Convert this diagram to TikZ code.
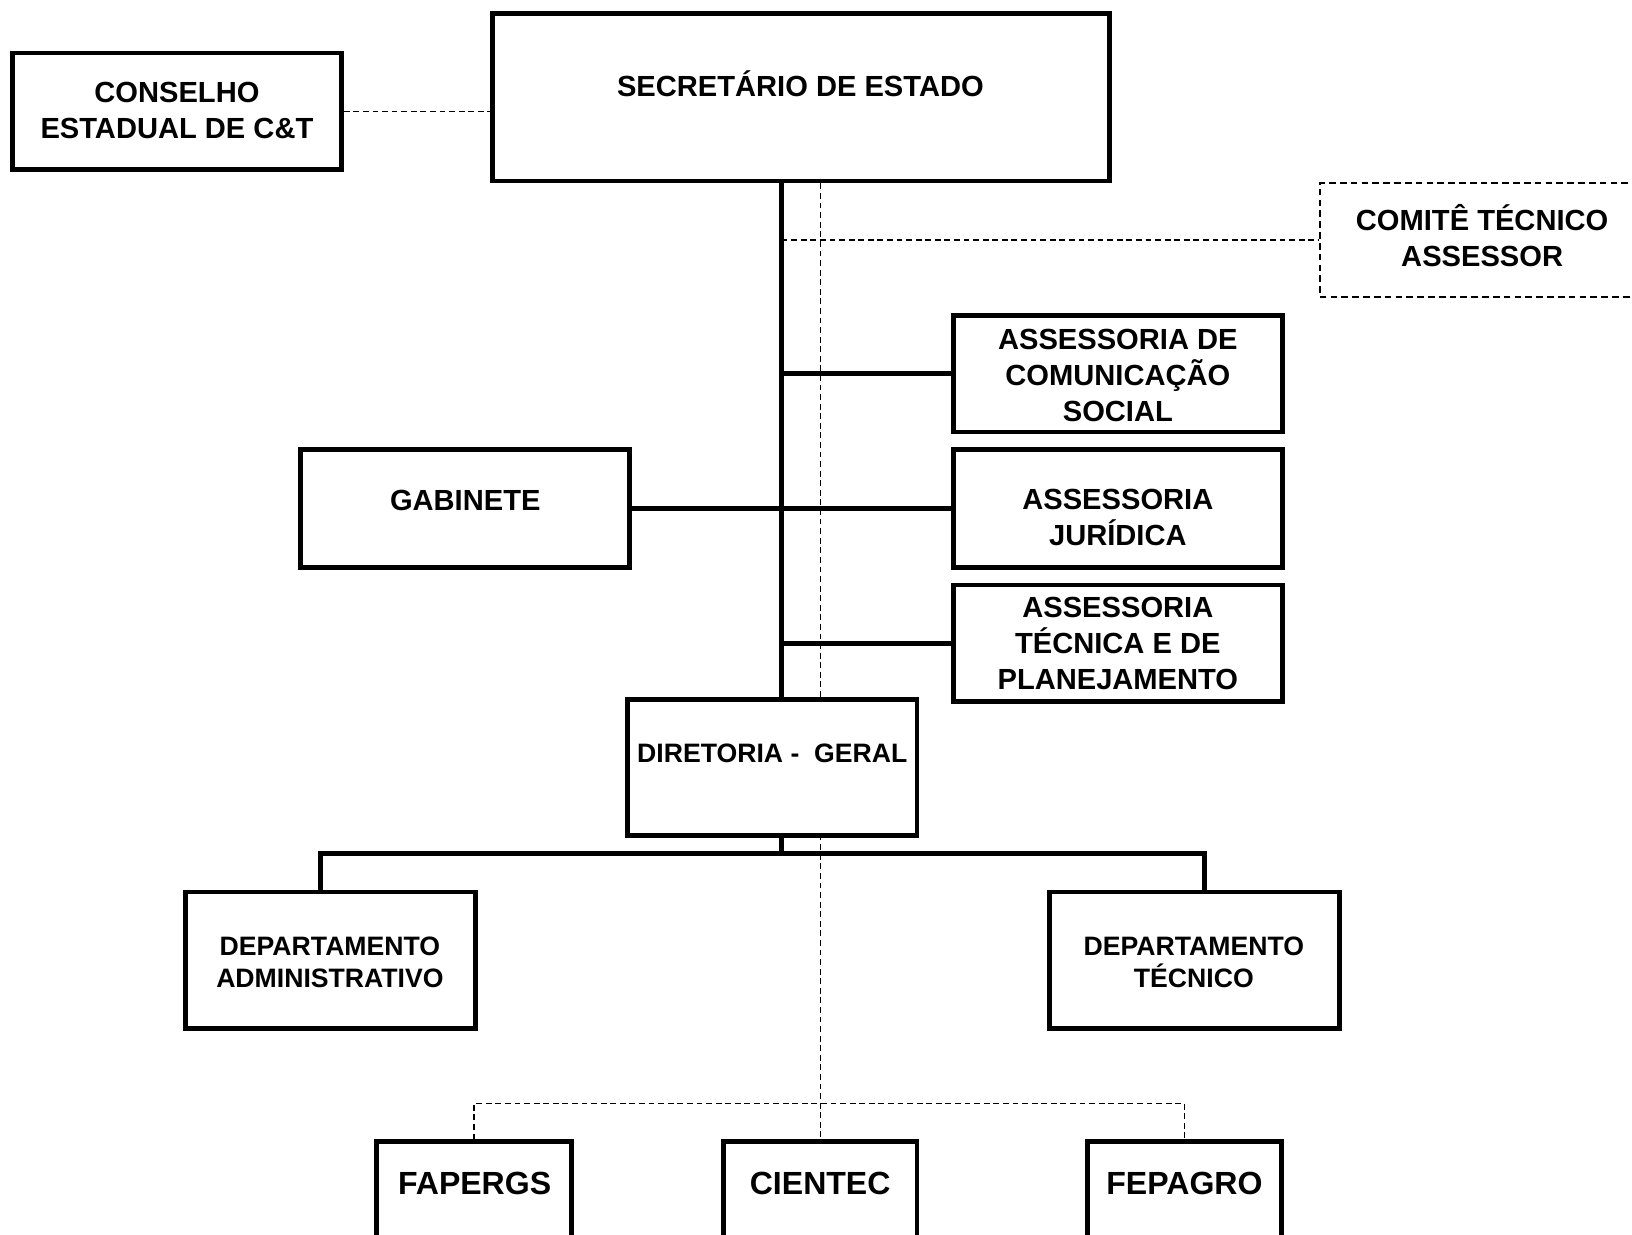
\documentclass[tikz,border=0pt]{standalone}
\usepackage{fontspec}
\setmainfont{Liberation Sans}
\usetikzlibrary{fit,backgrounds}
\begin{document}
\begin{tikzpicture}[x=0.25mm,y=-0.25mm,
  box/.style={draw, line width=1.15mm, fill=white, inner sep=0pt},
  dbox/.style={draw, line width=0.45mm, dash pattern=on 1.6mm off 1mm, fill=white, inner sep=0pt},
  mainline/.style={line width=1.15mm},
  thinline/.style={line width=0.3mm, dash pattern=on 1.4mm off 0.9mm},
  bigtxt/.style={font=\bfseries\fontsize{19.9}{24.5}\selectfont, align=center, inner sep=0pt},
  midtxt/.style={font=\bfseries\fontsize{18.2}{22}\selectfont, align=center, inner sep=0pt},
  hugetxt/.style={font=\bfseries\fontsize{21.9}{26}\selectfont, align=center, inner sep=0pt}]
\useasboundingbox (0,0) rectangle (1568,1186);
\clip (0,0) rectangle (1568,1186);

% boxes
\node[box, fit={(12,51) (328,163)}] (cons) {};
\node[box, fit={(473,13) (1066,174)}] (sec) {};
\node[dbox, fit={(1268,176) (1580,285)}] (com) {};
\node[box, fit={(916,303) (1232,415)}] (acs) {};
\node[box, fit={(289,432) (605,545)}] (gab) {};
\node[box, fit={(916,432) (1232,545)}] (aj) {};
\node[box, fit={(916,562) (1232,674)}] (atp) {};
\node[box, fit={(603,672) (881,803)}] (dir) {};
\node[box, fit={(178,857) (457,988)}] (da) {};
\node[box, fit={(1008,857) (1287,988)}] (dt) {};
\node[box, fit={(362,1097) (549,1240)}] (fap) {};
\node[box, fit={(695,1097) (881,1240)}] (cie) {};
\node[box, fit={(1045,1097) (1231,1240)}] (fep) {};

% texts
\node[bigtxt] (cons-t) at (170,106) {CONSELHO\\ESTADUAL DE C\&T};
\node[bigtxt] (sec-t) at (769,80.5) {SECRETÁRIO DE ESTADO};
\node[bigtxt] (com-t) at (1424,226.5) {COMITÊ TÉCNICO\\ASSESSOR};
\node[bigtxt] (acs-t) at (1074,360.5) {ASSESSORIA DE\\COMUNICAÇÃO\\SOCIAL};
\node[bigtxt] (gab-t) at (447,481) {GABINETE};
\node[bigtxt] (aj-t) at (1074,497.5) {ASSESSORIA\\JURÍDICA};
\node[bigtxt] (atp-t) at (1074,618.5) {ASSESSORIA\\TÉCNICA E DE\\PLANEJAMENTO};
\node[midtxt] (dir-t) at (742,724) {DIRETORIA -~~GERAL};
\node[midtxt] (da-t) at (317,924.5) {DEPARTAMENTO\\ADMINISTRATIVO};
\node[midtxt] (dt-t) at (1147,924.5) {DEPARTAMENTO\\TÉCNICO};
\node[hugetxt] (fap-t) at (456,1137) {FAPERGS};
\node[hugetxt] (cie-t) at (788,1137) {CIENTEC};
\node[hugetxt] (fep-t) at (1138,1137) {FEPAGRO};

% helper coordinates
\coordinate (spine) at (751,0);
\coordinate (bar) at (0,820);
\coordinate (bl) at (308,820);
\coordinate (br) at (1157,820);
\coordinate (dh) at (0,1060);

\begin{scope}[on background layer]
  \fill[white] (0,0) rectangle (1568,1186);
  % dashed links
  \draw[thinline] (cons.east) -- (cons.east -| sec.west);
  \draw[thinline] (cie.north |- sec.south) -- (cie.north);
  \draw[thinline] (spine |- com.west) -- (com.west);
  \draw[thinline] (fap.north) -- (fap.north |- dh) -- (fep.north |- dh) -- (fep.north);
  % solid hierarchy
  \draw[mainline] (spine |- sec.south) -- (spine |- dir.north);
  \draw[mainline] (spine |- acs.west) -- (acs.west);
  \draw[mainline] (gab.east) -- (aj.west);
  \draw[mainline] (spine |- atp.west) -- (atp.west);
  \draw[mainline] (spine |- dir.south) -- (spine |- bar);
  \draw[mainline] (bl |- da.north) -- (bl) -- (br) -- (br |- dt.north);
\end{scope}
\end{tikzpicture}
\end{document}
